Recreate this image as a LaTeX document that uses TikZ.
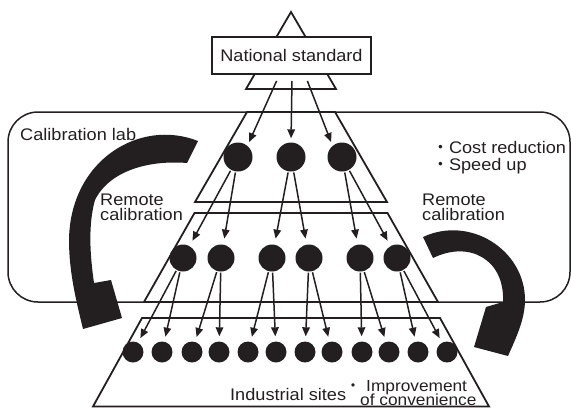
\documentclass[tikz,border=0pt]{standalone}
\usepackage{fontspec}
\setmainfont{Liberation Sans}[FakeStretch=1.08]
\newfontfamily\cjk{Noto Sans CJK JP}
\usetikzlibrary{arrows.meta}
\definecolor{ink}{RGB}{35,31,32}
\begin{document}
\begin{tikzpicture}[x=1pt,y=-1pt,
  layer/.style={draw=ink, line width=1.8pt, line join=miter},
  dot1/.style={circle, fill=ink, inner sep=0pt, minimum size=29pt},
  dot2/.style={circle, fill=ink, inner sep=0pt, minimum size=27pt},
  dot3/.style={circle, fill=ink, inner sep=0pt, minimum size=21pt},
  conn/.style={draw=ink, line width=1.5pt, -{Triangle[length=9pt,width=7.5pt]}, shorten >=5pt, shorten <=1pt},
  lbl/.style={inner sep=0pt, anchor=base west, text=ink, align=left, font=\fontsize{16.8}{15}\selectfont},
  bigarrow/.style={fill=ink}
]
\useasboundingbox (0,0) rectangle (571,408);
% calibration lab frame
\draw[draw=ink, line width=1.5pt, rounded corners=30pt] (8,112) rectangle (570,302);
% pyramid layers
\draw[layer] (291,12) -- (336,89) -- (246,89) -- cycle;
\draw[layer] (247,112) -- (335,112) -- (387,202) -- (195,202) -- cycle;
\draw[layer] (194.5,213) -- (387.5,213) -- (438,302) -- (144,302) -- cycle;
\draw[layer] (142,318) -- (440,318) -- (489,406.5) -- (93,406.5) -- cycle;
% national standard box
\node[draw=ink, fill=white, line width=1.5pt, minimum width=159pt, minimum height=37pt, inner sep=0pt, text=ink, font=\fontsize{16.8}{14}\selectfont] (ns) at (291.5,55.5) {National standard};
\coordinate (s1) at (277,80);
\coordinate (s2) at (292,80);
\coordinate (s3) at (307,80);
% circles
\foreach \n/\x in {1/238,2/291,3/342} \node[dot1] (c1\n) at (\x,157) {};
\foreach \n/\x in {1/183,2/221,3/272,4/309,5/360,6/397} \node[dot2] (c2\n) at (\x,258) {};
\foreach \n/\x in {1/133,2/162,3/192,4/219,5/248,6/276,7/305,8/332,9/362,10/389,11/418,12/447} \node[dot3] (c3\n) at (\x,352) {};
% arrows
\draw[conn, shorten >=4pt] (s1) -- (c11.50);
\draw[conn, shorten >=4pt] (s2) -- (c12.north);
\draw[conn, shorten >=4pt] (s3) -- (c13.130);
\draw[conn, shorten >=6pt] (c11) -- (c21);
\draw[conn, shorten >=6pt] (c11) -- (c22);
\draw[conn, shorten >=6pt] (c12) -- (c23);
\draw[conn, shorten >=6pt] (c12) -- (c24);
\draw[conn, shorten >=6pt] (c13) -- (c25);
\draw[conn, shorten >=6pt] (c13) -- (c26);
\draw[conn] (c21) -- (c31);
\draw[conn] (c21) -- (c32);
\draw[conn] (c22) -- (c33);
\draw[conn] (c22) -- (c34);
\draw[conn] (c23) -- (c35);
\draw[conn] (c23) -- (c36);
\draw[conn] (c24) -- (c37);
\draw[conn] (c24) -- (c38);
\draw[conn] (c25) -- (c39);
\draw[conn] (c25) -- (c310);
\draw[conn] (c26) -- (c311);
\draw[conn] (c26) -- (c312);
% big curved arrows
\fill[bigarrow] (198,141) .. controls (140,118) and (70,160) .. (69,240)
  .. controls (69,272) and (76,300) .. (83,329) -- (122,318) -- (111,280) -- (94,283)
  .. controls (90,255) and (88,225) .. (95,200)
  .. controls (110,170) and (150,160) .. (187,163) -- cycle;
\fill[bigarrow] (423,237) .. controls (470,215) and (525,250) .. (525,300)
  .. controls (525,320) and (515,340) .. (508,356) -- (474,347) -- (486,307) -- (503,302)
  .. controls (505,260) and (470,240) .. (433,258) -- cycle;
% labels
\node[lbl] (lab) at (20,140) {Calibration lab};
\node[lbl] (rcl) at (100,220) {Remote\\calibration};
\node[lbl] (rcr) at (422,220) {Remote\\calibration};
\node[lbl, font=\fontsize{16.8}{17}\selectfont] (merits) at (432,170) {{\cjk ・}Cost reduction\\{\cjk ・}Speed up};
\node[lbl] (ind) at (230,400) {Industrial sites};
\node[lbl, font=\fontsize{16}{14}\selectfont] (imp) at (345,391) {{\cjk ・}\hspace{5pt}Improvement};
\node[lbl, font=\fontsize{16}{14}\selectfont] (conv) at (360,405) {of convenience};
\end{tikzpicture}
\end{document}
